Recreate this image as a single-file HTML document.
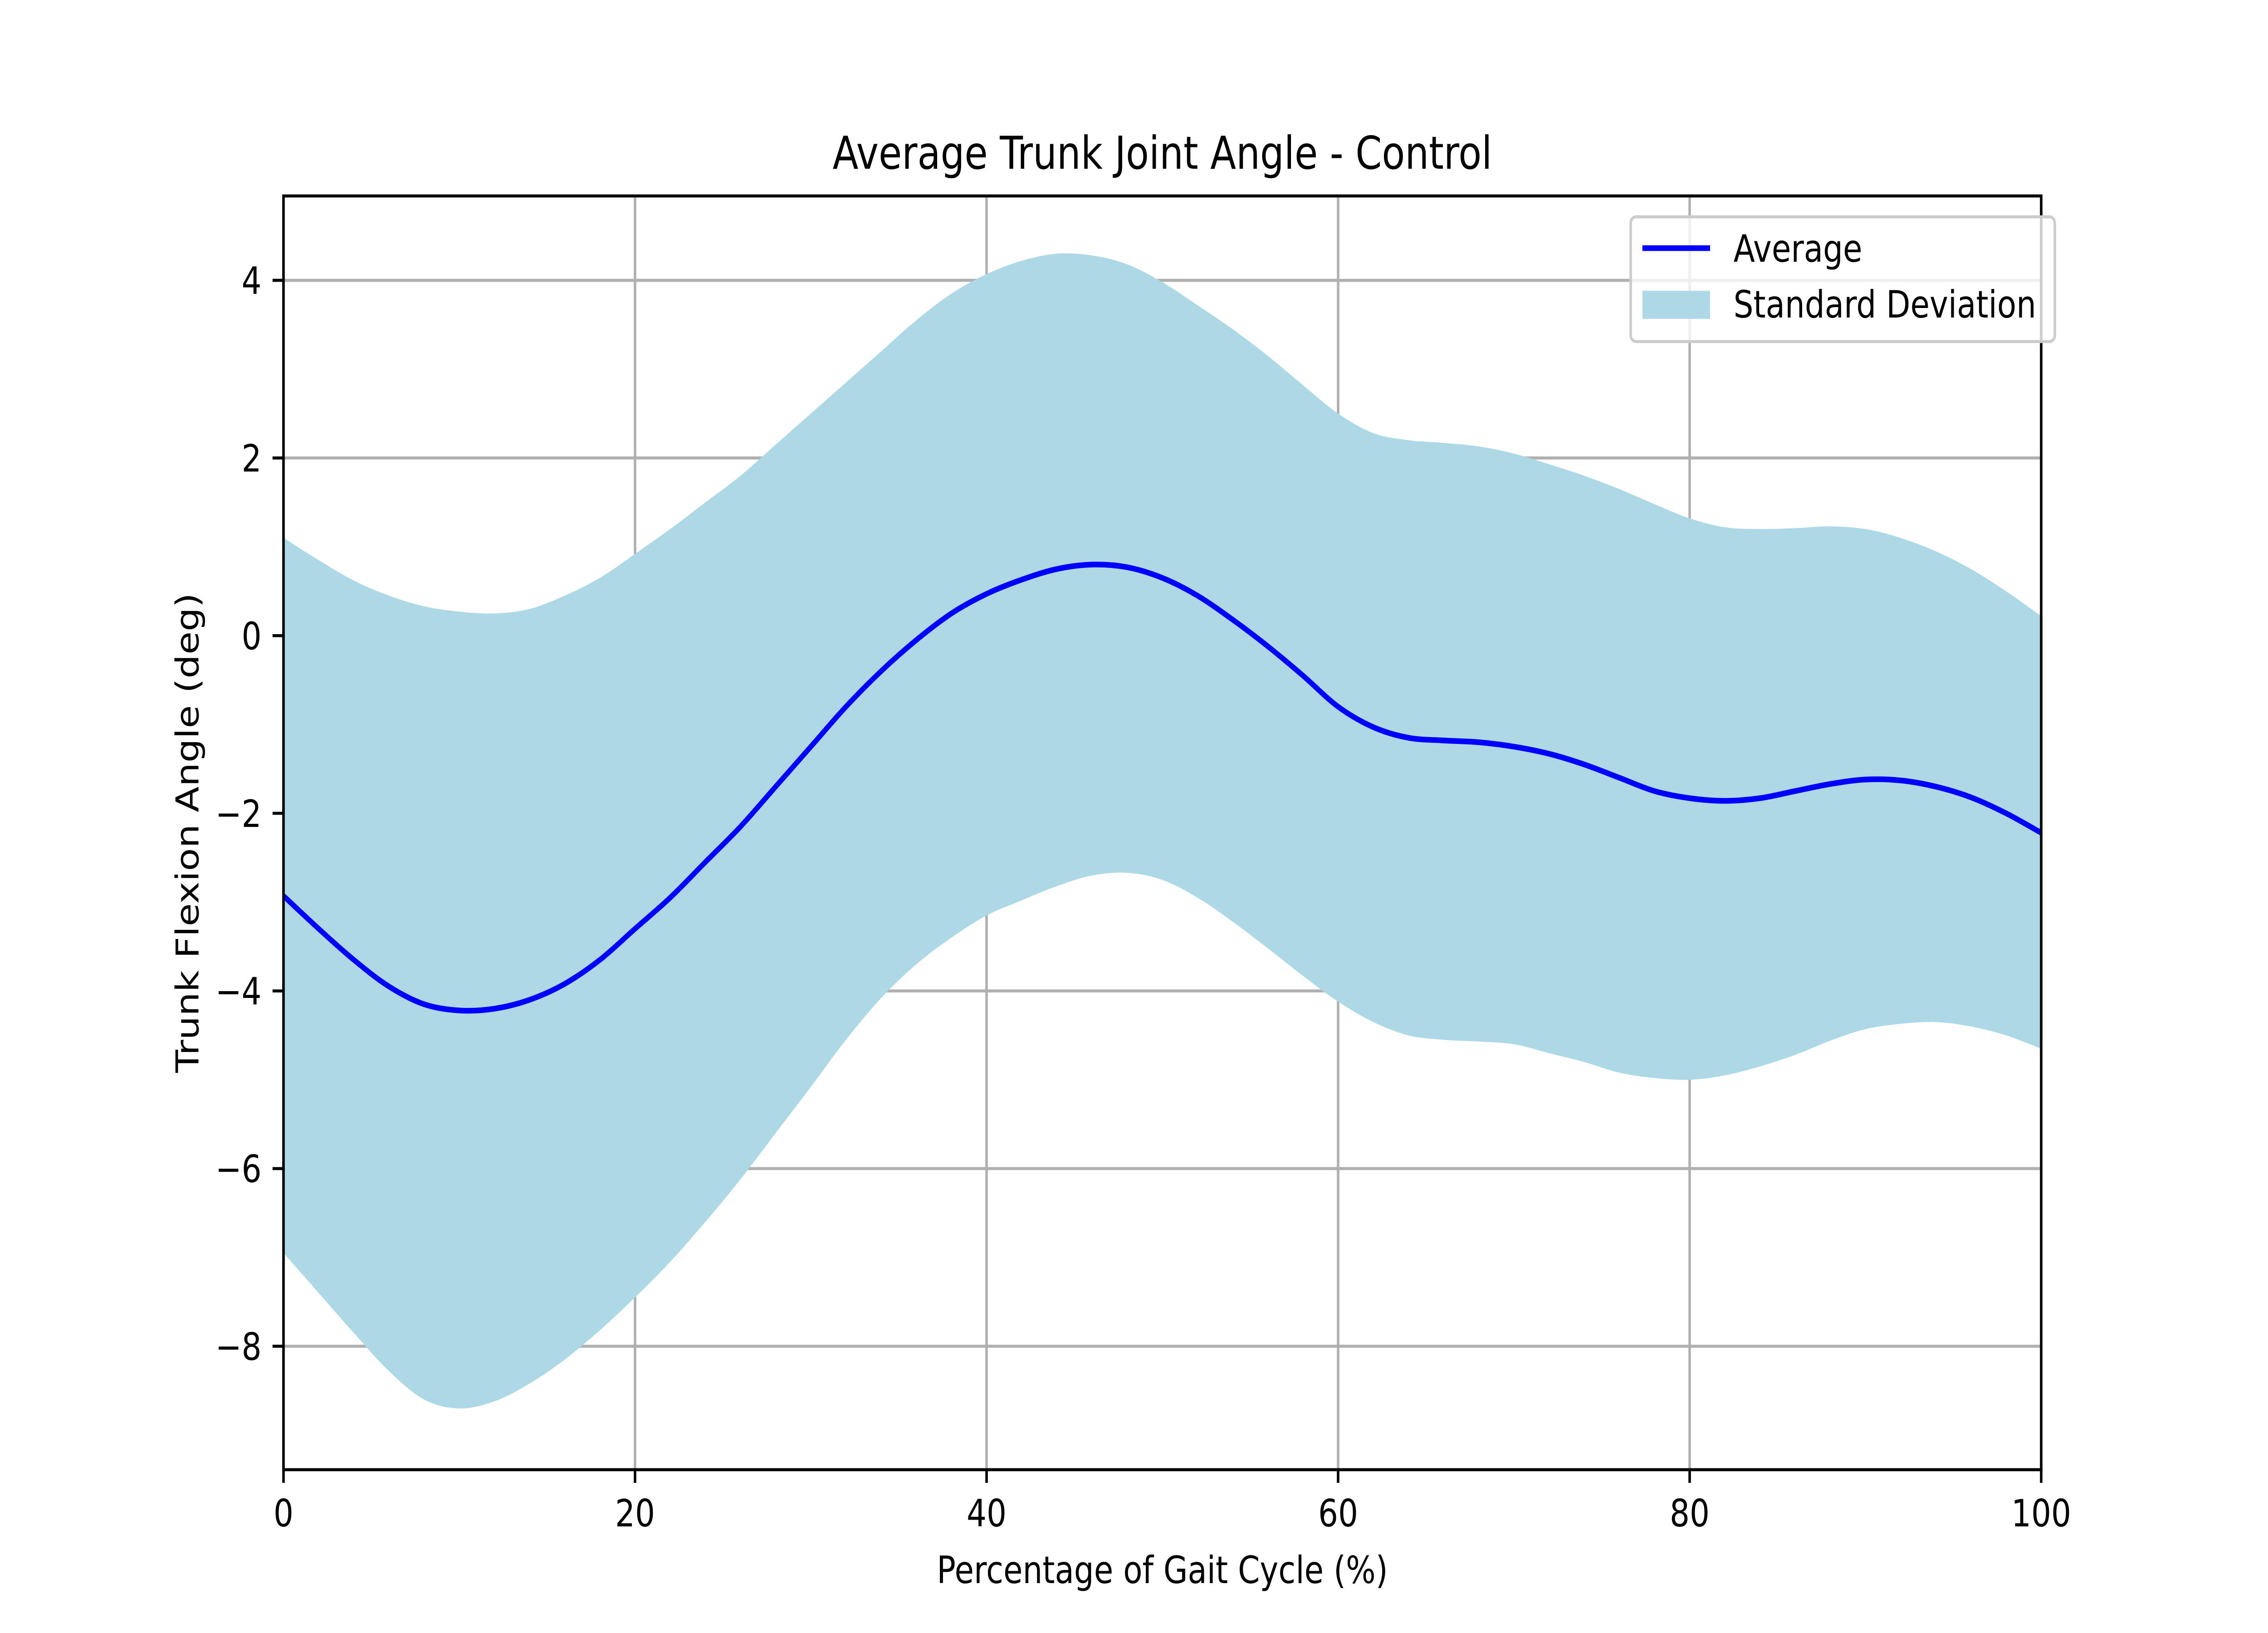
<!DOCTYPE html>
<html><head><meta charset="utf-8"><style>
html,body{margin:0;padding:0;background:#fff;overflow:hidden;width:100%;height:100%;}
svg{display:block;font-family:"DejaVu Sans","Liberation Sans",sans-serif;width:100vw;height:100vh;}
</style></head><body>
<svg id="chart" viewBox="0 0 6000 3600" preserveAspectRatio="none" xmlns="http://www.w3.org/2000/svg">
<rect width="6000" height="3600" fill="#fff"/>
<g id="grid"></g>
<g id="band"></g>
<g id="lines"></g>
<rect x="750" y="432" width="4650" height="2808" fill="none" stroke="#000" stroke-width="6.7"/>
<g id="ticks"></g>
<text x="3075" y="372" font-size="100" text-anchor="middle">Average Trunk Joint Angle - Control</text>
<text x="3075" y="3490" font-size="83" text-anchor="middle">Percentage of Gait Cycle (%)</text>
<text x="0" y="0" font-size="83" text-anchor="middle" transform="translate(525,1836) rotate(-90)">Trunk Flexion Angle (deg)</text>
<g>
<rect x="4314" y="478" width="1122" height="275" rx="14" fill="#fff" fill-opacity="0.8" stroke="#ccc" stroke-width="6.7"/>
<line x1="4345" y1="547" x2="4524" y2="547" stroke="#0000ff" stroke-width="12.5"/>
<text x="4586" y="577" font-size="83">Average</text>
<rect x="4345" y="641" width="179" height="62" fill="#add8e6"/>
<text x="4586" y="700" font-size="83">Standard Deviation</text>
</g>
</svg>
<script>
const xs=[0,2,4,6,8,10,12,14,16,18,20,22,24,26,28,30,32,34,36,38,40,42,44,46,48,50,52,54,56,58,60,62,64,66,68,70,72,74,76,78,80,82,84,86,88,90,92,94,96,98,100];
const meanVals=[-2.93,-3.3,-3.65,-3.95,-4.15,-4.22,-4.2,-4.1,-3.92,-3.65,-3.3,-2.95,-2.55,-2.15,-1.7,-1.25,-0.8,-0.4,-0.05,0.25,0.47,0.63,0.75,0.8,0.77,0.65,0.45,0.18,-0.12,-0.45,-0.8,-1.03,-1.15,-1.18,-1.2,-1.25,-1.33,-1.45,-1.6,-1.75,-1.83,-1.86,-1.83,-1.75,-1.67,-1.62,-1.63,-1.7,-1.82,-2.0,-2.22];
const upperVals=[1.1,0.85,0.62,0.45,0.33,0.27,0.25,0.3,0.45,0.65,0.92,1.2,1.5,1.8,2.15,2.5,2.85,3.2,3.55,3.85,4.07,4.22,4.3,4.28,4.18,3.98,3.72,3.45,3.15,2.82,2.5,2.28,2.2,2.17,2.13,2.05,1.93,1.8,1.65,1.48,1.32,1.22,1.2,1.21,1.23,1.2,1.1,0.95,0.75,0.5,0.22];
const lowerVals=[-6.95,-7.4,-7.85,-8.28,-8.6,-8.7,-8.62,-8.42,-8.15,-7.82,-7.45,-7.05,-6.6,-6.12,-5.6,-5.08,-4.55,-4.08,-3.7,-3.4,-3.15,-2.98,-2.82,-2.7,-2.67,-2.75,-2.95,-3.22,-3.52,-3.83,-4.12,-4.35,-4.5,-4.55,-4.57,-4.6,-4.7,-4.8,-4.92,-4.98,-5.0,-4.95,-4.85,-4.72,-4.56,-4.43,-4.37,-4.35,-4.4,-4.5,-4.65];
const xTicks=[0,20,40,60,80,100];
const yTicks=[-8,-6,-4,-2,0,2,4];
const NS="http://www.w3.org/2000/svg";
const L=750,R=5400,T=432,B=3240,YMIN=-9.39,YMAX=4.95;
const sx=v=>L+(v-0)/(100-0)*(R-L);
const sy=v=>B-(v-YMIN)/(YMAX-YMIN)*(B-T);
function mk(tag,attrs,parent){const e=document.createElementNS(NS,tag);for(const k in attrs)e.setAttribute(k,attrs[k]);parent.appendChild(e);return e;}
function smooth(p,start){
 let d=start?('M'+p[0][0]+','+p[0][1]):('L'+p[0][0]+','+p[0][1]);
 for(let i=0;i<p.length-1;i++){
  const p0=p[i-1]||p[i],p1=p[i],p2=p[i+1],p3=p[i+2]||p2;
  const c1x=p1[0]+(p2[0]-p0[0])/6,c1y=p1[1]+(p2[1]-p0[1])/6;
  const c2x=p2[0]-(p3[0]-p1[0])/6,c2y=p2[1]-(p3[1]-p1[1])/6;
  d+='C'+c1x+','+c1y+' '+c2x+','+c2y+' '+p2[0]+','+p2[1];
 }
 return d;
}
const grid=document.getElementById('grid'),ticks=document.getElementById('ticks');
xTicks.forEach(t=>{
 const g=mk('line',{x1:sx(t),x2:sx(t),y1:T,y2:B,stroke:'#b0b0b0','stroke-width':6.7},grid);
 
 
 const tk=mk('line',{x1:sx(t),x2:sx(t),y1:B,y2:B+29,stroke:'#000','stroke-width':6.7},ticks);
 
 
 const tx=mk('text',{x:sx(t),y:B+125,'font-size':83,'text-anchor':'middle'},ticks);
 tx.textContent=String(t);
 
 
});
yTicks.forEach(t=>{
 const g=mk('line',{x1:L,x2:R,y1:sy(t),y2:sy(t),stroke:'#b0b0b0','stroke-width':6.7},grid);
 
 
 const tk=mk('line',{x1:L-29,x2:L,y1:sy(t),y2:sy(t),stroke:'#000','stroke-width':6.7},ticks);
 
 
 const tx=mk('text',{x:L-58,y:sy(t)+30,'font-size':83,'text-anchor':'end'},ticks);
 tx.textContent=(t<0?'\u2212':'')+Math.abs(t);
 
 
});
const up=xs.map((x,i)=>[sx(x),sy(upperVals[i])]);
const lo=xs.map((x,i)=>[sx(x),sy(lowerVals[i])]).reverse();
const d=smooth(up,true)+smooth(lo,false)+'Z';
const band=mk('path',{d:d,fill:'#add8e6',stroke:'none'},document.getElementById('band'));


const mp=xs.map((x,i)=>[sx(x),sy(meanVals[i])]);
const line=mk('path',{d:smooth(mp,true),fill:'none',stroke:'#0000ff','stroke-width':12.5,'stroke-linejoin':'round'},document.getElementById('lines'));


</script>
</body></html>
